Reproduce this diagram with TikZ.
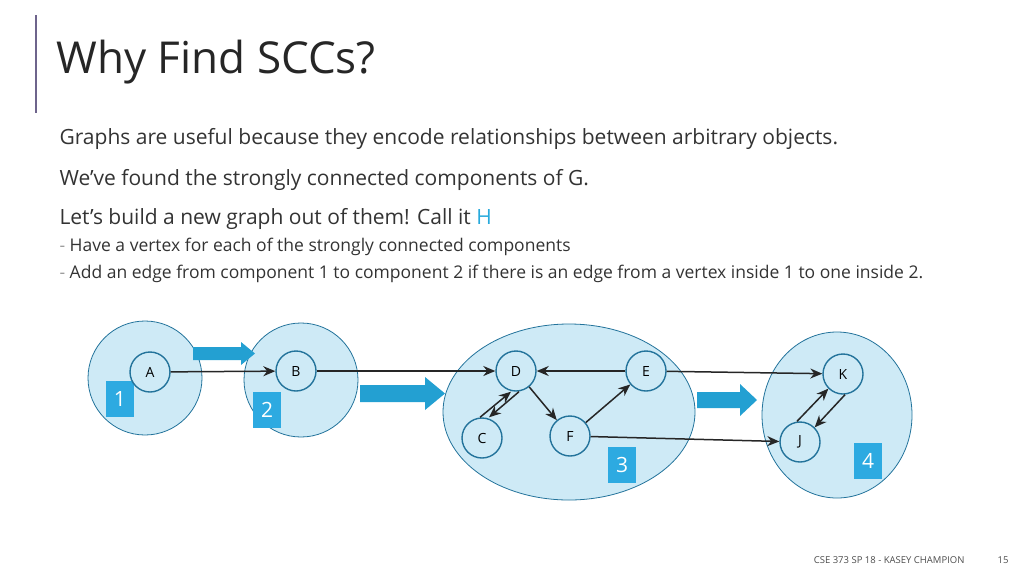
\documentclass[tikz,border=0pt]{standalone}
\usepackage{fontspec}
\setmainfont{Open Sans}
\usetikzlibrary{arrows.meta}
\definecolor{cfill}{RGB}{206,234,246}
\definecolor{cline}{RGB}{35,115,155}
\definecolor{bfill}{RGB}{45,170,225}
\definecolor{afill}{RGB}{35,160,210}
\definecolor{hcol}{RGB}{40,170,220}
\definecolor{barc}{RGB}{110,100,140}
\tikzset{
 comp/.style={draw=cline,fill=cfill,thick},
 vert/.style={circle,draw=cline,line width=1.4pt,fill=cfill,minimum size=40pt,inner sep=0pt,font=\fontsize{14}{14}\selectfont},
 numbox/.style={fill=bfill,text=white,minimum width=28pt,minimum height=36pt,inner sep=0pt,font=\fontsize{21}{21}\selectfont},
 fat/.style={fill=afill},
 edge/.style={-{Stealth[length=12pt,width=10pt]},line width=1.5pt,black!85},
}
\begin{document}
\begin{tikzpicture}[x=1pt,y=-1pt]
\useasboundingbox (0,0) rectangle (1024,576);
\draw[barc,line width=1.5pt] (36,15) -- (36,113);
\node[anchor=west,font=\fontsize{44}{44}\selectfont,text=black!85] (title) at (53,62) {Why Find SCCs?};
\node[anchor=west,font=\fontsize{21}{21}\selectfont,text=black!80] (l1) at (56,139) {Graphs are useful because they encode relationships between arbitrary objects.};
\node[anchor=west,font=\fontsize{21}{21}\selectfont,text=black!80] (l2) at (56,180) {We’ve found the strongly connected components of G.};
\node[anchor=west,font=\fontsize{21}{21}\selectfont,text=black!80] (l3) at (56,219) {Let’s build a new graph out of them! Call it \textcolor{hcol}{H}};
\node[anchor=west,font=\fontsize{17.5}{17.5}\selectfont,text=black!80] (l4) at (56,247) {\textcolor{black!40}{-} Have a vertex for each of the strongly connected components};
\node[anchor=west,font=\fontsize{17.5}{17.5}\selectfont,text=black!80] (l5) at (56,274) {\textcolor{black!40}{-} Add an edge from component 1 to component 2 if there is an edge from a vertex inside 1 to one inside 2.};
% components
\draw[comp] (145,378) ellipse (57 and 57);
\draw[comp] (301,380) ellipse (57 and 57);
\draw[comp] (569,412) ellipse (126 and 88);
\draw[comp] (837,415) ellipse (75 and 83);
\node[numbox] (n1) at (120,399) {1};
\node[numbox] (n2) at (267,410) {2};
\node[numbox] (n3) at (622,465) {3};
\node[numbox] (n4) at (868,461) {4};
% fat arrows
\fill[fat] (193,347) -- (241,347) -- (241,342) -- (255,353.5) -- (241,365) -- (241,360) -- (193,360) -- cycle;
\fill[fat] (360,385) -- (425,385) -- (425,377) -- (445,393.5) -- (425,410) -- (425,402) -- (360,402) -- cycle;
\fill[fat] (697,392) -- (740,392) -- (740,384) -- (757,400) -- (740,416) -- (740,408) -- (697,408) -- cycle;
% vertices
\node[vert] (A) at (150,372) {A};
\node[vert] (B) at (296,371) {B};
\node[vert] (D) at (516,371) {D};
\node[vert] (E) at (646,371) {E};
\node[vert] (C) at (482,438) {C};
\node[vert] (F) at (570,436) {F};
\node[vert] (K) at (843,374) {K};
\node[vert] (J) at (800,442) {J};
% edges
\draw[edge] (A) -- (B);
\draw[edge] (B) -- (D);
\draw[edge] (E) -- (D);
\draw[edge] (D) -- (F);
\draw[edge] (F) -- (E);
\draw[edge] ([xshift=3pt]D.south) -- ([xshift=7pt]C.north);
\draw[edge] ([xshift=-2pt]C.north) -- ([xshift=-5pt]D.south);
\draw[edge] (E) -- (K);
\draw[edge] (F) -- (J);
\draw[edge] ([xshift=-3pt]J.north) -- (K.south west);
\draw[edge] ([xshift=2pt]K.south) -- (J.north east);
\node[anchor=east,font=\fontsize{9.5}{9.5}\selectfont,text=black!70] (foot) at (968,560) {CSE 373 SP 18 - KASEY CHAMPION};
\node[font=\fontsize{9.5}{9.5}\selectfont,text=black!70] (pg) at (1003,560) {15};
\end{tikzpicture}
\end{document}
